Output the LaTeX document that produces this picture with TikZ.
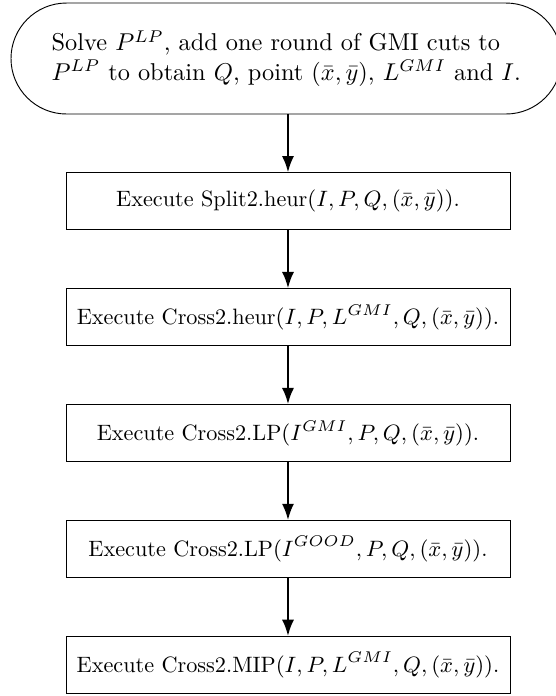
\RequirePackage{fix-cm}
\documentclass[tikz,border=0pt]{standalone}
\usepackage{amsmath}
\usepackage{amssymb}
\usepackage{tikz}
\usetikzlibrary{positioning,shapes.misc,arrows.meta}

\begin{document}
\begin{tikzpicture}[
      stepbox/.style={
        draw=black, thin, fill=white, font=\fontsize{9.5pt}{11.5pt}\selectfont,
        minimum width=6.67cm, minimum height=0.856cm, inner sep=2pt
      },
      startbox/.style={
        rounded rectangle, draw=black, thin, font=\fontsize{10.4pt}{12.6pt}\selectfont,
        align=left, minimum width=8.34cm, minimum height=1.667cm, inner xsep=1pt
      },
      node distance=0.871cm, >={Latex[length=7pt,width=5.2pt]}
      ]

  \useasboundingbox (0,0) rectangle (8.35,-10.455);

	  \node[startbox] (solve) at (4.30,-0.879) {Solve $P^{LP}$, add one round of GMI cuts to\\
	    $P^{LP}$ to obtain $Q$, point $(\bar{x},\bar{y})$, $L^{GMI}$ and $I$.};
	  \coordinate (axis) at (4.326,0);
	  \coordinate (solveout) at (solve.south -| axis);
	  \node[stepbox, below = of solveout] (split) {Execute Split2.heur$(I,P,Q,(\bar{x},\bar{y}))$.};
	  \node[stepbox, below = of split] (crossheur) {Execute Cross2.heur$(I,P,L^{GMI},Q,(\bar{x},\bar{y}))$.};
	  \node[stepbox, below = of crossheur] (crosslp) {Execute Cross2.LP$(I^{GMI},P,Q,(\bar{x},\bar{y}))$.};
	  \node[stepbox, below = of crosslp] (crossgood) {Execute Cross2.LP$(I^{GOOD},P,Q,(\bar{x},\bar{y}))$.};
	  \node[stepbox, below = of crossgood] (crossmip) {Execute Cross2.MIP$(I,P,L^{GMI},Q,(\bar{x},\bar{y}))$.};

  % Connect the nodes
  \draw[->, line width=1pt] (solveout) -- (split);
  \foreach \a/\b in {split/crossheur, crossheur/crosslp,
                     crosslp/crossgood, crossgood/crossmip}
    \draw[->, line width=1pt] (\a) -- (\b);

\end{tikzpicture}
\end{document}
